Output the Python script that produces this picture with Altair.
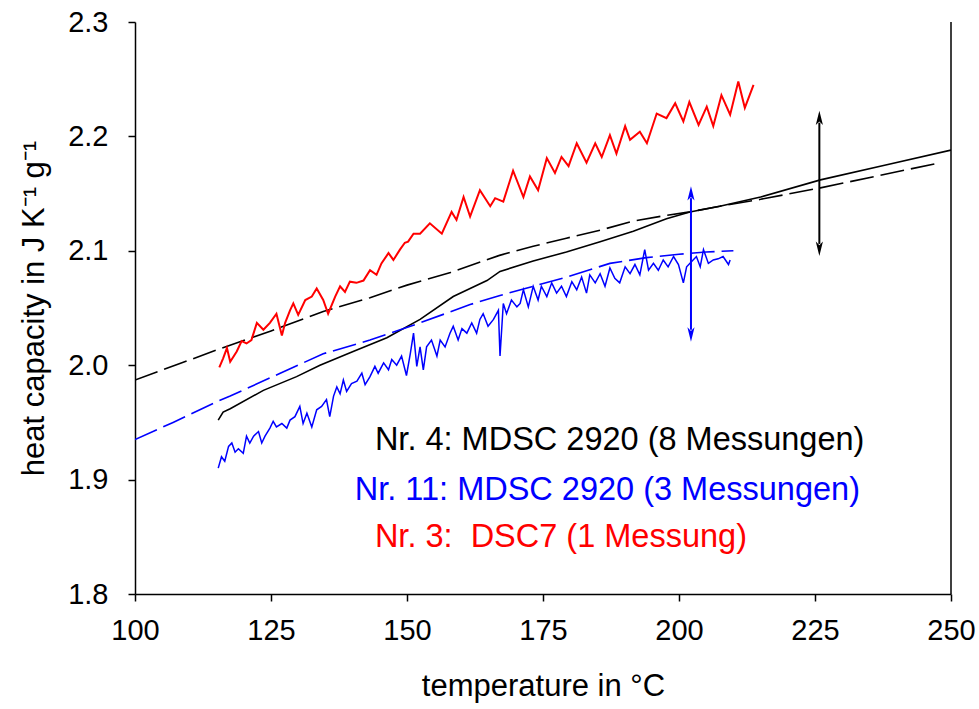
import altair as alt
import pandas as pd

FONT = "Arial, Liberation Sans, sans-serif"

# ---- data ----
red_T = [115.5, 116.2, 116.9, 117.5, 118.7, 119.6, 120.5, 121.4, 122.4, 123.6, 124.8, 126.0, 127.0, 127.6,
         128.5, 129.1, 130.0, 131.3, 132.5, 133.4, 134.6, 135.5, 136.8, 137.7, 138.6, 139.5, 140.7, 142.0,
         143.2, 144.4, 145.3, 146.6, 147.5, 148.7, 149.6, 150.2, 151.2, 152.4, 154.2, 156.4, 158.2, 159.1,
         160.4, 161.6, 163.4, 165.3, 166.2, 167.7, 169.5, 171.4, 172.6, 174.1, 175.7, 177.2, 178.4, 179.7,
         181.2, 183.0, 184.6, 185.8, 187.3, 188.5, 190.1, 191.0, 192.8, 194.1, 195.9, 197.7, 199.3, 200.8,
         201.9, 203.6, 205.1, 206.3, 207.8, 209.4, 210.9, 212.1, 213.7]
red_cp = [1.998, 2.006, 2.015, 2.003, 2.012, 2.021, 2.019, 2.022, 2.037, 2.031, 2.037, 2.045, 2.026, 2.037,
          2.048, 2.054, 2.044, 2.057, 2.060, 2.067, 2.057, 2.045, 2.060, 2.069, 2.064, 2.073, 2.072, 2.074,
          2.083, 2.079, 2.089, 2.098, 2.092, 2.101, 2.107, 2.108, 2.115, 2.115, 2.124, 2.115, 2.134, 2.127,
          2.147, 2.130, 2.153, 2.139, 2.146, 2.143, 2.170, 2.147, 2.165, 2.153, 2.181, 2.168, 2.182, 2.174,
          2.194, 2.177, 2.194, 2.182, 2.201, 2.185, 2.209, 2.197, 2.204, 2.194, 2.220, 2.216, 2.229, 2.213,
          2.230, 2.210, 2.226, 2.209, 2.236, 2.219, 2.248, 2.225, 2.245]

black_dash_T = [100, 108, 116, 125, 134.6, 143.2, 150, 158, 167, 173.2, 179.3, 185.5, 191.6, 197.7, 202,
                207.5, 215, 226, 237, 248]
black_dash_cp = [1.987, 2.001, 2.015, 2.030, 2.047, 2.059, 2.070, 2.081, 2.096, 2.104, 2.111, 2.118, 2.126,
                 2.131, 2.134, 2.139, 2.145, 2.155, 2.166, 2.177]

black_solid_T = [115.3, 116.2, 117.5, 123.6, 129.7, 134.0, 140.1, 146.3, 152.4, 158.5, 161.6, 164.7, 167.1,
                 173.2, 179.3, 185.5, 191.6, 197.7, 202, 207.5, 215, 226, 238, 250]
black_solid_cp = [1.952, 1.959, 1.962, 1.978, 1.990, 2.000, 2.012, 2.024, 2.040, 2.060, 2.067, 2.074, 2.082,
                  2.091, 2.099, 2.108, 2.117, 2.128, 2.134, 2.139, 2.147, 2.162, 2.175, 2.188]

blue_dash_T = [100, 107, 115, 117.5, 126.7, 134.6, 143.2, 152.4, 161.6, 167.1, 173.2, 179.3, 187.3, 194,
               200, 205, 210]
blue_dash_cp = [1.935, 1.950, 1.968, 1.973, 1.993, 2.010, 2.022, 2.037, 2.053, 2.061, 2.069, 2.077, 2.089,
                2.094, 2.097, 2.099, 2.100]

blue_T = [115.3, 115.9, 116.5, 117.2, 117.8, 118.4, 119.0, 119.9, 120.5, 121.1, 121.8, 122.7, 123.3, 123.9,
          124.8, 125.4, 126.0, 127.0, 127.9, 128.5, 129.4, 130.3, 130.9, 131.6, 132.5, 133.4, 134.3, 135.2,
          135.8, 136.5, 137.1, 137.7, 138.3, 138.9, 139.8, 140.8, 141.7, 142.3, 143.2, 144.1, 144.7, 145.7,
          146.6, 147.2, 148.1, 149.0, 149.9, 150.6, 151.2, 151.8, 152.4, 153.0, 153.6, 154.5, 155.5, 156.1,
          157.0, 157.9, 158.5, 159.4, 160.1, 161.0, 161.9, 162.8, 163.4, 164.0, 164.9, 165.9, 166.8, 167.1,
          167.7, 168.3, 169.2, 170.2, 170.8, 171.4, 172.3, 173.2, 174.1, 174.7, 175.7, 176.6, 177.5, 178.4,
          179.3, 180.3, 181.2, 182.1, 183.0, 183.6, 184.6, 185.5, 186.4, 187.3, 188.2, 189.1, 190.1, 191.0,
          191.9, 192.8, 193.7, 194.4, 195.3, 196.2, 197.1, 198.0, 199.0, 199.9, 200.8, 201.4, 202.2, 203.2,
          203.9, 204.5, 205.4, 206.3, 207.2, 208.1, 209.1, 209.4]
blue_cp = [1.910, 1.920, 1.916, 1.929, 1.932, 1.924, 1.927, 1.923, 1.938, 1.932, 1.938, 1.942, 1.932, 1.938,
           1.945, 1.951, 1.946, 1.949, 1.945, 1.952, 1.955, 1.964, 1.949, 1.958, 1.946, 1.961, 1.964, 1.970,
           1.955, 1.973, 1.981, 1.975, 1.987, 1.977, 1.984, 1.986, 1.993, 1.983, 1.990, 1.999, 1.993, 2.002,
           1.996, 2.005, 2.000, 2.008, 1.991, 2.010, 2.028, 1.999, 2.016, 1.996, 2.016, 2.022, 2.008, 2.022,
           2.016, 2.028, 2.034, 2.022, 2.032, 2.028, 2.037, 2.028, 2.040, 2.045, 2.034, 2.040, 2.048, 2.008,
           2.054, 2.045, 2.057, 2.051, 2.054, 2.066, 2.051, 2.069, 2.057, 2.069, 2.060, 2.072, 2.063, 2.069,
           2.060, 2.073, 2.066, 2.077, 2.063, 2.079, 2.072, 2.080, 2.069, 2.085, 2.076, 2.072, 2.086, 2.080,
           2.088, 2.079, 2.101, 2.083, 2.089, 2.083, 2.092, 2.086, 2.095, 2.088, 2.072, 2.086, 2.090, 2.095,
           2.086, 2.101, 2.089, 2.092, 2.093, 2.095, 2.088, 2.092]

# double arrows (position, lower end, upper end)
arrow_T = [225.8, 202.2]
arrow_lo = [2.106, 2.031]
arrow_hi = [2.212, 2.146]
arrow_color = ["black", "#0000FF"]

# legend-like annotations
label_text = ["Nr. 4: MDSC 2920 (8 Messungen)", "Nr. 11: MDSC 2920 (3 Messungen)",
              "Nr. 3:\u00a0 DSC7 (1 Messung)"]
label_T = [144.1, 140.4, 144.1]
label_cp = [1.935, 1.891, 1.850]
label_color = ["black", "#0000FF", "#FF0000"]

x_ticks = [100, 125, 150, 175, 200, 225, 250]
y_ticks = [1.8, 1.9, 2.0, 2.1, 2.2, 2.3]

# ---- scales ----
xs = alt.Scale(domain=[100, 250], nice=False, zero=False)
ys = alt.Scale(domain=[1.8, 2.3], nice=False, zero=False)

X = alt.X("T:Q", scale=xs,
          axis=alt.Axis(values=x_ticks, title="temperature in °C", format="d"))
Y = alt.Y("cp:Q", scale=ys,
          axis=alt.Axis(values=y_ticks, title="heat capacity in J K\u207b\u00b9 g\u207b\u00b9", format=".1f"))


def line_layer(T, cp, color, width, dash=None):
    df = pd.DataFrame({"T": T, "cp": cp})
    kw = dict(color=color, strokeWidth=width, clip=True)
    if dash:
        kw["strokeDash"] = dash
    return alt.Chart(df).mark_line(**kw).encode(x=X, y=Y)


black_dash = line_layer(black_dash_T, black_dash_cp, "black", 1.6, [24, 7])
black_solid = line_layer(black_solid_T, black_solid_cp, "black", 1.6)
blue_dash = line_layer(blue_dash_T, blue_dash_cp, "#0000FF", 1.6, [24, 7])
blue_noisy = line_layer(blue_T, blue_cp, "#0000FF", 1.5)
red = line_layer(red_T, red_cp, "#FF0000", 2.0)

arr_df = pd.DataFrame({"T": arrow_T, "lo": arrow_lo, "hi": arrow_hi, "c": arrow_color})
arrow_rules = alt.Chart(arr_df).mark_rule(strokeWidth=2).encode(
    x=alt.X("T:Q", scale=xs), y=alt.Y("lo:Q", scale=ys), y2="hi:Q",
    color=alt.Color("c:N", scale=None))
head_shape = "M0,-1L0.4,0.6L0,0.2L-0.4,0.6Z"
heads_up = alt.Chart(arr_df).mark_point(shape=head_shape, filled=True, size=320, opacity=1,
                                         yOffset=-3).encode(
    x=alt.X("T:Q", scale=xs), y=alt.Y("hi:Q", scale=ys), color=alt.Color("c:N", scale=None))
heads_down = alt.Chart(arr_df).mark_point(shape=head_shape, filled=True, size=320, opacity=1,
                                           angle=180, yOffset=3).encode(
    x=alt.X("T:Q", scale=xs), y=alt.Y("lo:Q", scale=ys), color=alt.Color("c:N", scale=None))

border = alt.Chart(pd.DataFrame({"T": [250], "lo": [1.8], "hi": [2.3]})).mark_rule(
    color="black", strokeWidth=1.5).encode(
    x=alt.X("T:Q", scale=xs), y=alt.Y("lo:Q", scale=ys), y2="hi:Q")

lab_df = pd.DataFrame({"T": label_T, "cp": label_cp, "txt": label_text, "c": label_color})
labels = alt.Chart(lab_df).mark_text(align="left", baseline="middle", fontSize=32.5, font=FONT).encode(
    x=alt.X("T:Q", scale=xs), y=alt.Y("cp:Q", scale=ys), text="txt:N",
    color=alt.Color("c:N", scale=None))

chart = alt.layer(black_dash, black_solid, blue_dash, blue_noisy, red, arrow_rules, heads_up,
                  heads_down, border, labels).properties(
    width=816, height=572,
    padding={"left": 135, "top": 22, "right": 28, "bottom": 115},
    autosize=alt.AutoSizeParams(type="none"),
    background="white",
).configure_view(strokeWidth=0).configure_axis(
    grid=False, domainColor="black", domainWidth=1.5, tickColor="black", tickWidth=1.5, tickSize=7,
    labelColor="black", titleColor="black", labelFont=FONT, titleFont=FONT,
    labelFontSize=29, titleFontSize=31, titleFontWeight="normal", labelFlush=False,
    labelOverlap=False,
).configure_axisX(labelPadding=15, titlePadding=26).configure_axisY(labelPadding=20, titlePadding=17)

chart.save("out.html", embed_options={"renderer": "svg", "actions": False})
